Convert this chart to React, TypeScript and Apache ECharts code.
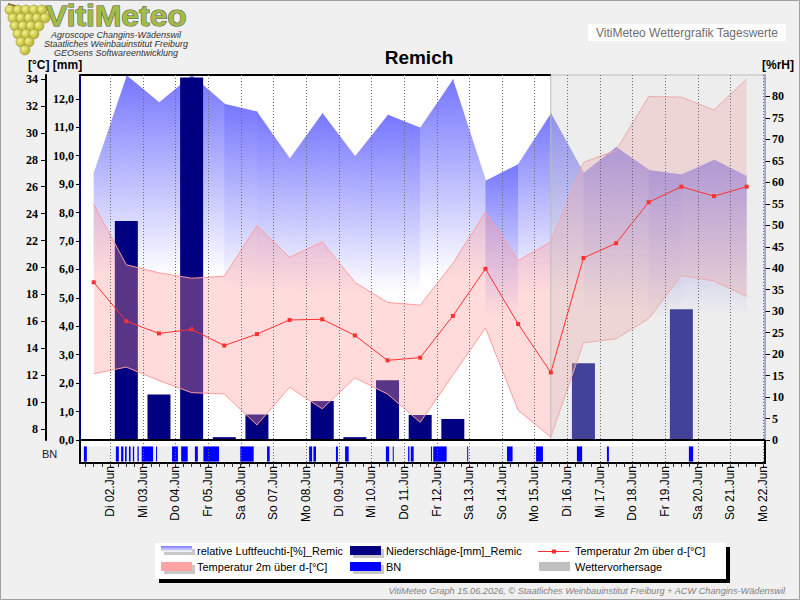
import React, { useEffect, useRef } from "react";
import * as echarts from "echarts";

// ---------------- data ----------------
const dayTicks = [2, 3, 4, 5, 6, 7, 8, 9, 10, 11, 12, 13, 14, 15, 16, 17, 18, 19, 20, 21, 22];
const dayLabels = [
  "Di 02.Jun", "Mi 03.Jun", "Do 04.Jun", "Fr 05.Jun", "Sa 06.Jun", "So 07.Jun", "Mo 08.Jun",
  "Di 09.Jun", "Mi 10.Jun", "Do 11.Jun", "Fr 12.Jun", "Sa 13.Jun", "So 14.Jun", "Mo 15.Jun",
  "Di 16.Jun", "Mi 17.Jun", "Do 18.Jun", "Fr 19.Jun", "Sa 20.Jun", "So 21.Jun", "Mo 22.Jun",
];
// daily values placed at noon (day of June)
const pointDays = [1.5, 2.5, 3.5, 4.5, 5.5, 6.5, 7.5, 8.5, 9.5, 10.5, 11.5, 12.5, 13.5, 14.5, 15.5, 16.5, 17.5, 18.5, 19.5, 20.5, 21.5];
const humidity = [62.2, 85, 78.6, 85, 78.3, 76.5, 65.5, 76.2, 66, 75.8, 72.7, 84.1, 60.4, 64.3, 76.2, 62.2, 68.3, 62.9, 61.8, 65.3, 61.5];
const tempMean = [18.9, 16.0, 15.1, 15.4, 14.2, 15.05, 16.1, 16.15, 14.95, 13.1, 13.3, 16.4, 19.9, 15.8, 12.2, 20.7, 21.8, 24.85, 26.0, 25.3, 26.0];
const tempMax = [24.7, 20.2, 19.6, 19.2, 19.35, 23.1, 20.75, 21.9, 18.9, 17.4, 17.2, 20.3, 24.1, 20.5, 21.9, 27.8, 28.7, 32.7, 32.65, 31.7, 34.0];
const tempMin = [12.1, 12.6, 11.6, 10.7, 10.6, 8.3, 11.1, 9.5, 11.8, 10.6, 8.5, 12.0, 15.5, 9.4, 7.4, 14.4, 14.7, 16.2, 19.4, 19.0, 17.85];
const precip = [0, 7.7, 1.6, 12.75, 0.1, 0.9, 0, 1.37, 0.1, 2.1, 0.88, 0.74, 0, 0, 0, 2.7, 0, 0, 4.6, 0, 0];
// leaf wetness (BN) intervals, day of June
const bnStart = [1.20, 2.18, 2.34, 2.46, 2.58, 2.70, 2.84, 2.97, 3.41, 3.90, 4.18, 4.60, 4.86, 5.99, 6.81, 8.10, 8.23, 8.92, 9.20, 10.45, 10.66, 11.13, 11.21, 11.83, 11.90, 12.94, 14.16, 15.05, 16.30, 17.22, 19.73];
const bnEnd = [1.29, 2.27, 2.41, 2.51, 2.63, 2.74, 2.88, 3.32, 3.44, 4.08, 4.38, 4.69, 5.34, 6.40, 6.89, 8.19, 8.31, 8.98, 9.31, 10.55, 10.69, 11.17, 11.30, 11.86, 12.31, 12.97, 14.33, 15.26, 16.46, 17.28, 19.86];
const forecastStart = 15.5;

const tempTicks = [8, 10, 12, 14, 16, 18, 20, 22, 24, 26, 28, 30, 32, 34];
const precipTicks = [0, 1, 2, 3, 4, 5, 6, 7, 8, 9, 10, 11, 12];
const humTicks = [0, 5, 10, 15, 20, 25, 30, 35, 40, 45, 50, 55, 60, 65, 70, 75, 80];

// ---------------- layout ----------------
const X_MIN = 1.081;
const X_MAX = 22.061;
const T_MIN = 7.183;
const T_MAX = 34.297;
const P_MAX = 12.84;
const H_MAX = 85;

const quarterTicks: number[] = [];
for (let k = Math.ceil(X_MIN * 4); k <= Math.floor(X_MAX * 4); k++) quarterTicks.push(k / 4);

const SANS = '"Liberation Sans", Arial, sans-serif';
const SERIF = '"Liberation Serif", "Times New Roman", serif';

const numLabel = { fontFamily: SERIF, fontWeight: "bold" as const, fontSize: 12, color: "#000" };

function txt(x: number, y: number, text: string, font: string, fill: string, align = "left", extra: any = {}, el: any = {}) {
  return {
    type: "text",
    x,
    y,
    ...el,
    style: { text, font, fill, align, textAlign: align, verticalAlign: "middle", textVerticalAlign: "middle", ...extra },
  };
}

function buildOption(): any {
  const grapes: any[] = [];
  const rows = [
    [10, [10, 18, 26, 34, 42]],
    [18, [13, 21, 29, 37, 45]],
    [26, [15, 23, 31, 39]],
    [34, [18, 26, 34]],
    [42, [21, 29]],
    [50, [25]],
  ] as [number, number[]][];
  rows.forEach(([y, xs]) =>
    xs.forEach((x) => {
      grapes.push({
        type: "circle",
        shape: { cx: x, cy: y, r: 5 },
        style: {
          fill: new echarts.graphic.RadialGradient(0.35, 0.35, 0.7, [
            { offset: 0, color: "#f4f28a" },
            { offset: 1, color: "#b3ad2a" },
          ]),
          stroke: "#8c8a2a",
          lineWidth: 0.5,
        },
      });
    })
  );

  const humGrad = () =>
    new echarts.graphic.LinearGradient(0, 0, 0, 1, [
      { offset: 0, color: "#7676ff" },
      { offset: 0.55, color: "#ffffff" },
      { offset: 1, color: "#ffffff" },
    ]);

  const n = pointDays.length;

  return {
    animation: false,
    backgroundColor: "#f0f0f0",
    grid: [
      { left: 80, right: 35, top: 75, height: 365, show: true, backgroundColor: "#ffffff", borderWidth: 0 },
      { left: 80, right: 35, top: 440, height: 23, show: true, backgroundColor: "#ffffff", borderColor: "#000", borderWidth: 2 },
    ],
    xAxis: [
      {
        gridIndex: 0, type: "value", min: X_MIN, max: X_MAX,
        axisLine: { show: false }, axisTick: { show: false }, axisLabel: { show: false }, splitLine: { show: false },
      },
      {
        gridIndex: 1, type: "value", min: X_MIN, max: X_MAX, position: "bottom",
        axisLine: { show: false, onZero: false },
        axisTick: { show: true, customValues: quarterTicks, length: 4, lineStyle: { color: "#333", width: 1 } },
        axisLabel: {
          customValues: dayTicks, rotate: 90, margin: 3, fontFamily: SANS, fontSize: 12, color: "#000",
          formatter: (v: number) => dayLabels[Math.round(v) - 2] ?? "",
        },
        splitLine: { show: false },
      },
    ],
    yAxis: [
      {
        gridIndex: 0, type: "value", position: "left", offset: 34, min: T_MIN, max: T_MAX,
        axisLine: { show: true, onZero: false, lineStyle: { color: "#000", width: 2 } },
        axisTick: { show: true, customValues: tempTicks, length: 5, lineStyle: { color: "#000" } },
        axisLabel: { customValues: tempTicks, margin: 8, ...numLabel },
        splitLine: { show: false },
      },
      {
        gridIndex: 0, type: "value", position: "left", offset: 0, min: 0, max: P_MAX,
        axisLine: { show: true, onZero: false, lineStyle: { color: "#000080", width: 2 } },
        axisTick: { show: true, customValues: precipTicks, length: 4, lineStyle: { color: "#000" } },
        axisLabel: {
          customValues: precipTicks, margin: 6, ...numLabel,
          formatter: (v: number) => v.toFixed(1).replace(".", ","),
        },
        splitLine: { show: false },
      },
      {
        gridIndex: 0, type: "value", position: "right", min: 0, max: H_MAX,
        axisLine: { show: true, onZero: false, lineStyle: { color: "#8080ff", width: 2 } },
        axisTick: { show: true, customValues: humTicks, length: 5, lineStyle: { color: "#000" } },
        axisLabel: { customValues: humTicks, margin: 7, ...numLabel },
        splitLine: { show: false },
      },
      { gridIndex: 1, type: "value", min: 0, max: 1, show: false },
    ],
    series: [
      // humidity area, one gradient per daily segment
      {
        type: "custom", name: "relative Luftfeuchti-[%]_Remic", xAxisIndex: 0, yAxisIndex: 2, z: 1,
        data: pointDays.map((d, i) => [d, humidity[i]]),
        renderItem: (params: any, api: any) => {
          const i = params.dataIndex;
          if (i >= n - 1) return null;
          const p0 = api.coord([pointDays[i], humidity[i]]);
          const p1 = api.coord([pointDays[i + 1], humidity[i + 1]]);
          const b0 = api.coord([pointDays[i], 0]);
          const b1 = api.coord([pointDays[i + 1], 0]);
          const ov = i < n - 2 ? 0.6 : 0;
          return {
            type: "polygon",
            shape: { points: [p0, [p1[0] + ov, p1[1]], [b1[0] + ov, b1[1]], b0] },
            style: { fill: humGrad() },
          };
        },
      },
      // precipitation bars (days without rain left empty)
      {
        type: "bar", name: "Niederschläge-[mm]_Remic", xAxisIndex: 0, yAxisIndex: 1, z: 2,
        barWidth: 23,
        data: pointDays.map((d, i) => (precip[i] > 0 ? [d, precip[i]] : [d, "-"])),
        itemStyle: { color: "#000080" },
      },
      // temperature min/max band
      {
        type: "custom", name: "Temperatur 2m über d-[°C] band", xAxisIndex: 0, yAxisIndex: 0, z: 3,
        data: [[pointDays[0], tempMin[0]]],
        renderItem: (params: any, api: any) => {
          if (params.dataIndex !== 0) return null;
          const up = pointDays.map((d, i) => api.coord([d, tempMax[i]]));
          const lo = pointDays.map((d, i) => api.coord([d, tempMin[i]]));
          return {
            type: "group",
            children: [
              { type: "polygon", shape: { points: up.concat(lo.slice().reverse()) }, style: { fill: "rgba(255,153,153,0.35)" } },
              { type: "polyline", shape: { points: up }, style: { stroke: "#ff9c9c", lineWidth: 1, fill: null } },
              { type: "polyline", shape: { points: lo }, style: { stroke: "#ff9c9c", lineWidth: 1, fill: null } },
            ],
          };
        },
      },
      // forecast overlay + top/bottom borders
      {
        type: "custom", name: "Wettervorhersage", xAxisIndex: 0, yAxisIndex: 0, z: 4,
        data: [[forecastStart, T_MAX]],
        renderItem: (params: any, api: any) => {
          const cs = params.coordSys;
          const xs = api.coord([forecastStart, T_MAX])[0];
          return {
            type: "group",
            children: [
              {
                type: "rect",
                shape: { x: xs, y: cs.y, width: cs.x + cs.width - xs, height: cs.height },
                style: { fill: "rgba(200,200,200,0.33)", stroke: "#bdbdbd", lineWidth: 1 },
              },
              {
                type: "line",
                shape: { x1: cs.x, y1: cs.y, x2: xs, y2: cs.y },
                style: { stroke: "#000", lineWidth: 2 },
              },
              {
                type: "line",
                shape: { x1: cs.x, y1: cs.y + cs.height, x2: cs.x + cs.width, y2: cs.y + cs.height },
                style: { stroke: "#000", lineWidth: 2 },
              },
            ],
          };
        },
      },
      // temperature mean line
      {
        type: "line", name: "Temperatur 2m über d-[°C]", xAxisIndex: 0, yAxisIndex: 0, z: 5,
        data: pointDays.map((d, i) => [d, tempMean[i]]),
        symbol: "rect", symbolSize: 4, showSymbol: true,
        itemStyle: { color: "#ff3030" },
        lineStyle: { color: "#ff3030", width: 1 },
      },
      // day grid lines (main)
      {
        type: "custom", xAxisIndex: 0, yAxisIndex: 0, z: 6,
        data: dayTicks.map((d) => [d, T_MIN]),
        renderItem: (params: any, api: any) => {
          const cs = params.coordSys;
          const x = Math.round(api.coord([api.value(0), T_MIN])[0]) + 0.5;
          return { type: "line", shape: { x1: x, y1: cs.y, x2: x, y2: cs.y + cs.height }, style: { stroke: "#6a6a6a", lineWidth: 1, lineDash: [1, 2] } };
        },
      },
      // BN strip background
      {
        type: "custom", xAxisIndex: 1, yAxisIndex: 3, z: 1,
        data: [[X_MIN, 0]],
        renderItem: (params: any, api: any) => {
          const cs = params.coordSys;
          const yt = api.coord([X_MIN, 0.72])[1];
          const yb = api.coord([X_MIN, 0.06])[1];
          return { type: "rect", shape: { x: cs.x + 1, y: yt, width: cs.width - 2, height: yb - yt }, style: { fill: "#eeeeee" } };
        },
      },
      // BN bars
      {
        type: "custom", name: "BN", xAxisIndex: 1, yAxisIndex: 3, z: 2,
        data: bnStart.map((s, i) => [s, bnEnd[i]]),
        renderItem: (params: any, api: any) => {
          const p0 = api.coord([api.value(0), 0.72]);
          const p1 = api.coord([api.value(1), 0.06]);
          return { type: "rect", shape: { x: p0[0], y: p0[1], width: Math.max(1, p1[0] - p0[0]), height: p1[1] - p0[1] }, style: { fill: "#0000ff" } };
        },
      },
      // day grid lines (BN)
      {
        type: "custom", xAxisIndex: 1, yAxisIndex: 3, z: 3,
        data: dayTicks.map((d) => [d, 0]),
        renderItem: (params: any, api: any) => {
          const cs = params.coordSys;
          const x = Math.round(api.coord([api.value(0), 0])[0]) + 0.5;
          return { type: "line", shape: { x1: x, y1: cs.y, x2: x, y2: cs.y + cs.height + 4 }, style: { stroke: "#6a6a6a", lineWidth: 1, lineDash: [1, 2] } };
        },
      },
    ],
    graphic: {
      elements: [
        { type: "rect", shape: { x: 0.5, y: 0.5, width: 799, height: 599 }, style: { fill: null, stroke: "#a0a0a0", lineWidth: 1 } },
        // logo
        { type: "line", shape: { x1: 8, y1: 4, x2: 22, y2: 8 }, style: { stroke: "#7a6a30", lineWidth: 2 } },
        ...grapes,
        txt(46, 15.5, "VitiMeteo", `bold 30px ${SANS}`, "#a3bd44", "left", { stroke: "#4d4d4d", lineWidth: 1, lineHeight: 26 }, { scaleX: 1.06 }),
        txt(116, 35, "Agroscope Changins-Wädenswil", `italic 9px ${SANS}`, "#333", "center", { lineHeight: 9 }),
        txt(116, 44, "Staatliches Weinbauinstitut Freiburg", `italic 9px ${SANS}`, "#333", "center", { lineHeight: 9 }),
        txt(116, 53, "GEOsens Softwareentwicklung", `italic 9px ${SANS}`, "#333", "center", { lineHeight: 9 }),
        // top right box
        { type: "rect", shape: { x: 588, y: 24, width: 198, height: 17 }, style: { fill: "#ffffff" } },
        txt(687, 32.5, "VitiMeteo Wettergrafik Tageswerte", `12px ${SANS}`, "#6e6e6e", "center"),
        // title and axis headers
        txt(419, 57, "Remich", `bold 19px ${SANS}`, "#000", "center"),
        txt(28, 65, "[°C] [mm]", `bold 12px ${SANS}`, "#000", "left"),
        txt(762, 65, "[%rH]", `bold 12px ${SANS}`, "#000", "left"),
        txt(42, 454, "BN", `11px ${SANS}`, "#222", "left"),
        // legend
        { type: "rect", shape: { x: 159, y: 547, width: 571, height: 36 }, style: { fill: "#000" } },
        { type: "rect", shape: { x: 155, y: 543, width: 571, height: 36 }, style: { fill: "#fff" } },
        { type: "rect", shape: { x: 164, y: 549, width: 31, height: 6 }, style: { fill: "#c8c8c8" } },
        {
          type: "rect", shape: { x: 161, y: 546, width: 31, height: 6 },
          style: { fill: new echarts.graphic.LinearGradient(0, 0, 0, 1, [{ offset: 0, color: "#7878ff" }, { offset: 1, color: "#ffffff" }]) },
        },
        txt(197, 551, "relative Luftfeuchti-[%]_Remic", `11px ${SANS}`, "#000"),
        { type: "rect", shape: { x: 353, y: 549, width: 31, height: 9 }, style: { fill: "#c8c8c8" } },
        { type: "rect", shape: { x: 350, y: 546, width: 31, height: 9 }, style: { fill: "#000080" } },
        txt(386, 551, "Niederschläge-[mm]_Remic", `11px ${SANS}`, "#000"),
        { type: "line", shape: { x1: 538, y1: 551.5, x2: 569, y2: 551.5 }, style: { stroke: "#ff3030", lineWidth: 1 } },
        { type: "rect", shape: { x: 552, y: 549.5, width: 4, height: 4 }, style: { fill: "#ff3030" } },
        txt(575, 551, "Temperatur 2m über d-[°C]", `11px ${SANS}`, "#000"),
        { type: "rect", shape: { x: 164, y: 565, width: 31, height: 9 }, style: { fill: "#c8c8c8" } },
        { type: "rect", shape: { x: 161, y: 562, width: 31, height: 9 }, style: { fill: "#ffa3a3" } },
        txt(197, 567, "Temperatur 2m über d-[°C]", `11px ${SANS}`, "#000"),
        { type: "rect", shape: { x: 353, y: 565, width: 31, height: 9 }, style: { fill: "#c8c8c8" } },
        { type: "rect", shape: { x: 350, y: 562, width: 31, height: 9 }, style: { fill: "#0000ff" } },
        txt(386, 567, "BN", `11px ${SANS}`, "#000"),
        { type: "rect", shape: { x: 539, y: 562, width: 31, height: 9 }, style: { fill: "#c0c0c0" } },
        txt(575, 567, "Wettervorhersage", `11px ${SANS}`, "#000"),
        // footer
        txt(785, 591, "VitiMeteo Graph 15.06.2026, © Staatliches Weinbauinstitut Freiburg + ACW Changins-Wädenswil", `italic 9.2px ${SANS}`, "#808080", "right"),
      ],
    },
  };
}

export default function App() {
  const ref = useRef<HTMLDivElement>(null);
  useEffect(() => {
    document.body.style.margin = "0";
    if (!ref.current) return;
    const chart = echarts.init(ref.current, undefined, { renderer: "svg", width: 800, height: 600 });
    chart.setOption(buildOption());
    return () => chart.dispose();
  }, []);
  return <div ref={ref} style={{ width: 800, height: 600 }} />;
}
